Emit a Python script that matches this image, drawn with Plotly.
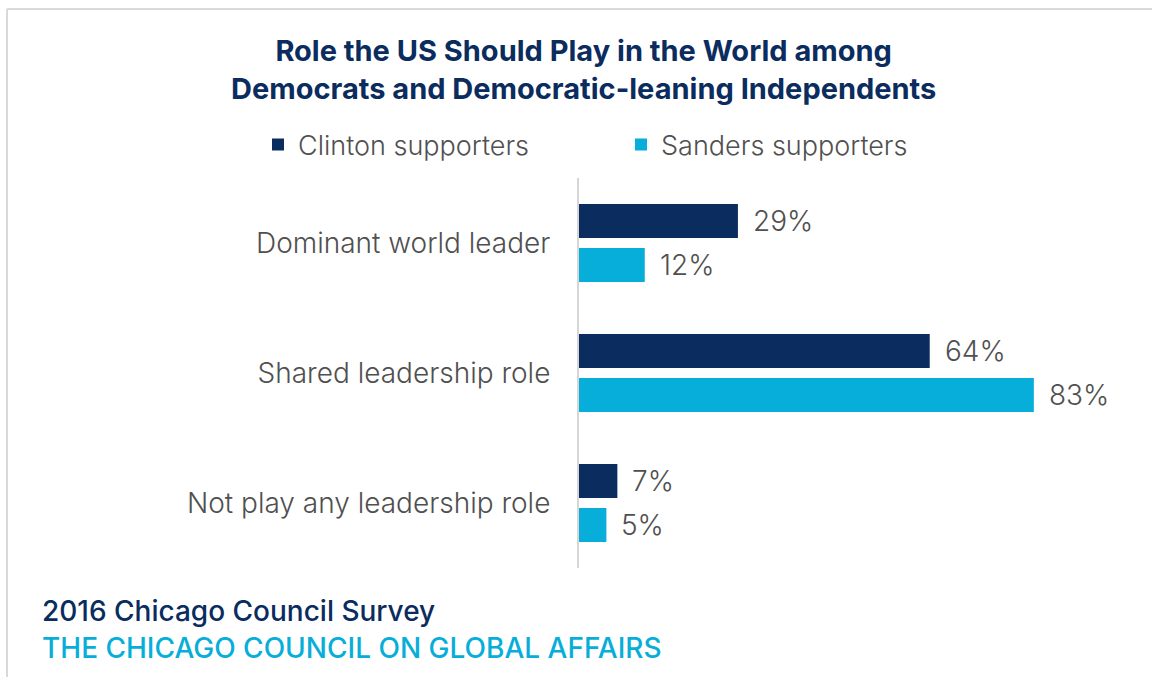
import plotly.graph_objects as go

# Survey responses (percent)
categories = ["Dominant world leader", "Shared leadership role", "Not play any leadership role"]
clinton = [29, 64, 7]
sanders = [12, 83, 5]
series_names = ["Clinton supporters", "Sanders supporters"]

NAVY = "#0a2c5e"
CYAN = "#07aed9"
TEXT = "#505050"
FONT = "Inter"

W, H = 1152, 677
L, R, T, B = 579, 25, 178, 109
plot_w = W - L - R
plot_h = H - T - B

fig = go.Figure()
fig.add_trace(go.Bar(name=series_names[0], y=categories, x=clinton, orientation="h",
                     marker=dict(color=NAVY, line=dict(width=0))))
fig.add_trace(go.Bar(name=series_names[1], y=categories, x=sanders, orientation="h",
                     marker=dict(color=CYAN, line=dict(width=0))))

annotations = []
for vals, shift in ((clinton, 22), (sanders, -22)):
    for cat, v in zip(categories, vals):
        annotations.append(dict(x=v, y=cat, xref="x", yref="y", text=f"{v}%",
                                showarrow=False, xanchor="left", yanchor="middle",
                                xshift=13, yshift=shift,
                                font=dict(family=FONT, size=28, color=TEXT, weight=300)))

def px_x(px):
    return (px - L) / plot_w

def px_y(py):
    return (H - B - py) / plot_h

# Title
annotations.append(dict(x=px_x(583), y=px_y(69), xref="paper", yref="paper",
                        text="<b>Role the US Should Play in the World among<br>Democrats and Democratic-leaning Independents</b>",
                        showarrow=False, xanchor="center", yanchor="middle", align="center",
                        font=dict(family=FONT, size=29, color=NAVY)))
# Footer
annotations.append(dict(x=px_x(40), y=px_y(611), xref="paper", yref="paper",
                        text="2016 Chicago Council Survey", showarrow=False,
                        xanchor="left", yanchor="middle",
                        font=dict(family=FONT, size=28, color=NAVY, weight=500)))
annotations.append(dict(x=px_x(40), y=px_y(648), xref="paper", yref="paper",
                        text="THE CHICAGO COUNCIL ON GLOBAL AFFAIRS", showarrow=False,
                        xanchor="left", yanchor="middle",
                        font=dict(family=FONT, size=28, color=CYAN, weight=500)))

shapes = [
    dict(type="line", xref="paper", yref="paper", x0=px_x(7), x1=px_x(1160),
         y0=px_y(9), y1=px_y(9), line=dict(color="#d9d9d9", width=2)),
    dict(type="line", xref="paper", yref="paper", x0=px_x(7), x1=px_x(7),
         y0=px_y(9), y1=px_y(690), line=dict(color="#d9d9d9", width=2)),
]

fig.update_layout(
    width=W, height=H,
    margin=dict(l=L, r=R, t=T, b=B, autoexpand=False),
    paper_bgcolor="white", plot_bgcolor="white",
    barmode="group", bargap=0.323, bargroupgap=0.227,
    showlegend=True,
    legend=dict(orientation="h", x=px_x(258), y=px_y(145), xanchor="left", yanchor="middle",
                entrywidth=318, entrywidthmode="pixels",
                font=dict(family=FONT, size=27, color=TEXT, weight=300), itemclick=False),
    annotations=annotations,
    shapes=shapes,
    xaxis=dict(range=[0, 100], visible=False, fixedrange=True),
    yaxis=dict(autorange="reversed", showline=True, linecolor="#d6d6d6", linewidth=2,
               showgrid=False, zeroline=False, ticks="", ticklabelstandoff=21,
               tickfont=dict(family=FONT, size=28, color=TEXT, weight=300)),
    font=dict(family=FONT),
)

fig.write_html("out.html")
